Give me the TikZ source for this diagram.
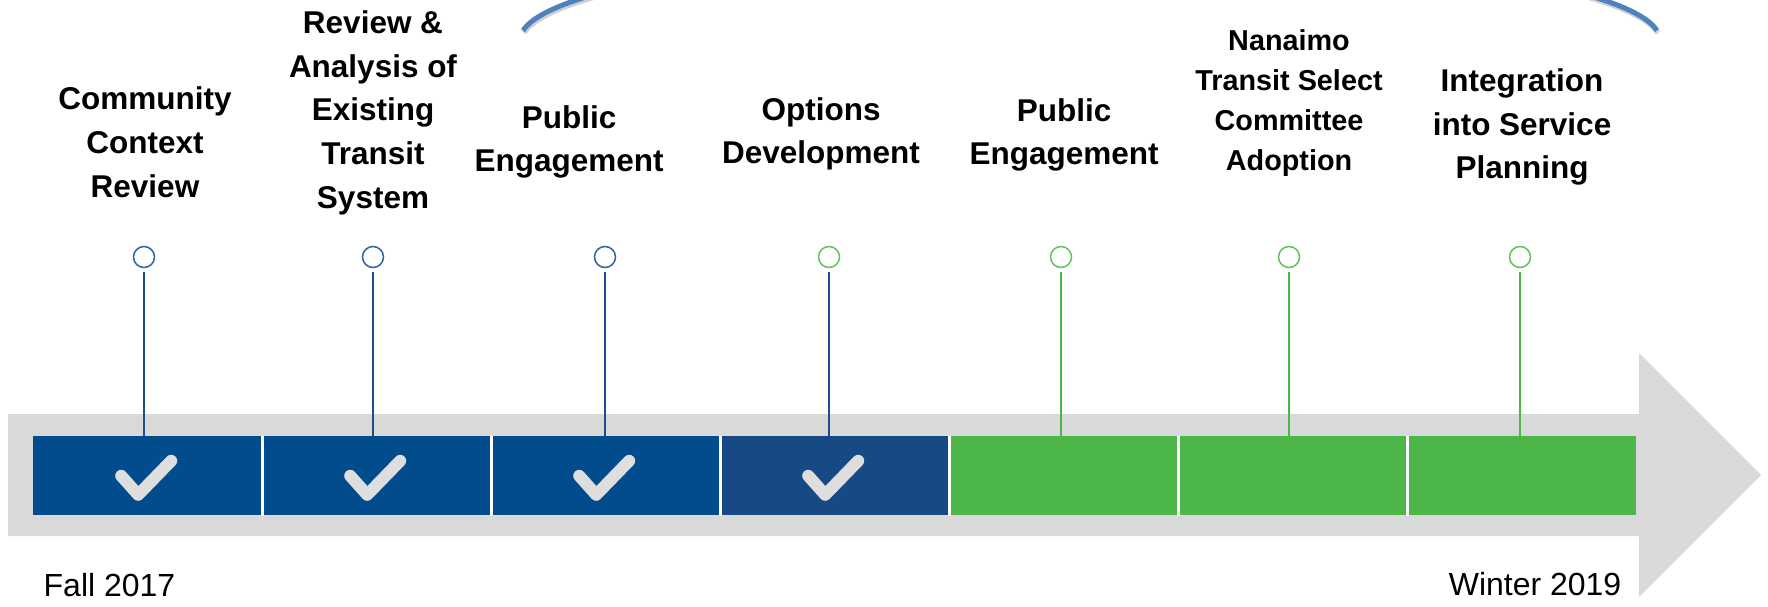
\documentclass[tikz,border=0pt]{standalone}
\usepackage{fontspec}
\setmainfont{Liberation Sans}
\usetikzlibrary{calc}

\definecolor{phaseblue}{HTML}{004C8C}
\definecolor{phasenavy}{HTML}{174A84}
\definecolor{phasegreen}{HTML}{4CB748}
\definecolor{bandgray}{HTML}{D9D9D9}
\definecolor{tickgray}{HTML}{DEDEDE}
\definecolor{stemblue}{HTML}{1F4E8C}
\definecolor{dotblue}{HTML}{2F64A6}
\definecolor{dotgreen}{HTML}{5FC25C}
\definecolor{arcblue}{HTML}{4F81BD}

\tikzset{
  phase/.style={minimum width=2.29cm, minimum height=0.79cm, inner sep=0pt, anchor=south west},
  milestone/.style={circle, draw, line width=0.015cm, fill=white, minimum size=0.21cm, inner sep=0pt},
  stemline/.style={line width=0.02cm, shorten <=0.035cm},
  checkmark/.style={tickgray, line width=0.12cm, line cap=round, line join=round},
  phasetext/.style={font=\fontsize{8.96pt}{12.38pt}\selectfont\bfseries, align=center, anchor=base, inner sep=0pt},
  datetext/.style={font=\fontsize{9.1pt}{11pt}\selectfont, inner sep=0pt}
}

\begin{document}
\begin{tikzpicture}
      \useasboundingbox (0,0) rectangle (17.68,6.06);

      % timeline band with arrow head
      \fill[bandgray] (0.08,0.70) -- (16.39,0.70) -- (16.39,0.09) -- (17.61,1.31)
                      -- (16.39,2.53) -- (16.39,1.92) -- (0.08,1.92) -- cycle;

      \foreach \i/\col in {1/phaseblue, 2/phaseblue, 3/phaseblue, 4/phasenavy,
                           5/phasegreen, 6/phasegreen, 7/phasegreen}
               {
                 \node[phase, fill=\col] (seg\i) at ({0.32+2.29*(\i-1)}, 0.90) {};
               }
      \foreach \i in {1,...,6}
               {
                 \draw[white, line width=0.025cm] (seg\i.north east) -- (seg\i.south east);
               }

      % done phases
      \foreach \i in {1,...,4}
               {
                 \draw[checkmark] ($ (seg\i.center) + (-0.26, 0) $) -- ++(0.17,-0.19) -- ++(0.33,0.34);
               }

      \foreach \i/\x/\dc/\sc in {1/1.44/dotblue/stemblue, 2/3.73/dotblue/stemblue,
                                 3/6.05/dotblue/stemblue, 4/8.29/dotgreen/stemblue,
                                 5/10.61/dotgreen/phasegreen, 6/12.89/dotgreen/phasegreen,
                                 7/15.20/dotgreen/phasegreen}
               {
                 \node[milestone, draw=\dc] (m\i) at (\x, 3.49) {};
                 \draw[stemline, \sc] (m\i) -- (m\i |- seg\i.north);
               }

      % anchor=base sits on the last line
      \node[phasetext] (t1) at (1.45, 4.09) {Community\\Context\\Review};
      \node[phasetext] (t2) at (3.73, 3.98) {Review \&\\Analysis of\\Existing\\Transit\\System};
      \node[phasetext] (t3) at (5.69, 4.34) {Public\\Engagement};
      \node[phasetext] (t4) at (8.21, 4.42) {Options\\Development};
      \node[phasetext] (t5) at (10.64, 4.41) {Public\\Engagement};
      \node[phasetext, font=\fontsize{8.19pt}{11.4pt}\selectfont\bfseries] (t6) at (12.89, 4.35)
            {Nanaimo\\Transit Select\\Committee\\Adoption};
      \node[phasetext, font=\fontsize{8.96pt}{12.5pt}\selectfont\bfseries] (t7) at (15.22, 4.27)
            {Integration\\into Service\\Planning};

      \node[datetext, anchor=base west] (start) at (0.43, 0.10) {Fall 2017};
      \node[datetext, anchor=base east] (finish) at (16.22, 0.11) {Winter 2019};

      % arc over the later phases
      \begin{scope}
        \clip (0,0) rectangle (17.68,6.06);
        \coordinate (arcc) at (10.90, 5.66);
        \draw[black!30, line width=0.05cm, opacity=0.6]
             ($ (arcc) + (174.1:5.70 and 0.92) + (0.01,-0.025) $)
             arc[start angle=174.1, end angle=5.9, x radius=5.70, y radius=0.92];
        \draw[arcblue, line width=0.05cm]
             ($ (arcc) + (174.1:5.70 and 0.92) $)
             arc[start angle=174.1, end angle=5.9, x radius=5.70, y radius=0.92];
      \end{scope}
    \end{tikzpicture}
\end{document}
